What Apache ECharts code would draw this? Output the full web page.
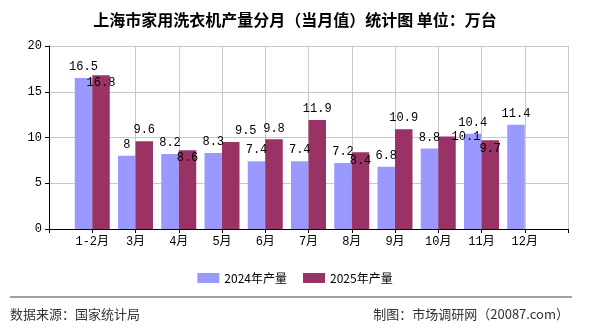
<!DOCTYPE html>
<html>
<head>
<meta charset="utf-8">
<script src="https://cdn.jsdelivr.net/npm/echarts@6/dist/echarts.min.js"></script>
<style>
  html, body { margin: 0; padding: 0; background: #fff; }
  #main { width: 590px; height: 330px; }
</style>
</head>
<body>
<div id="main"></div>
<script>
const months = ["1-2月", "3月", "4月", "5月", "6月", "7月", "8月", "9月", "10月", "11月", "12月"];
const output2024 = [16.5, 8, 8.2, 8.3, 7.4, 7.4, 7.2, 6.8, 8.8, 10.4, 11.4];
const output2025 = [16.8, 9.6, 8.6, 9.5, 9.8, 11.9, 8.4, 10.9, 10.1, 9.7, null];
const yTicks = [0, 5, 10, 15, 20];

const monoFont = "'Liberation Mono', 'Noto Sans CJK SC', monospace";
const cjkFont = "'Noto Sans CJK SC', sans-serif";

// labels of 2025 that the original pushed aside to avoid overlaps
const shift2025 = [[0, 19], [0, 0], [0, 19], [15, 0], [0, 0], [0, 0], [0, 20], [0, 0], [19, 11], [0, 20], [0, 0]];

function plotOutput(dom) {
  try {
    const chart = echarts.getInstanceByDom(dom) || echarts.init(dom, null, { renderer: "canvas" });

    // empty slots at both ends so the months sit on the grid lines
    const cats = [""].concat(months, [""]);
    const pad = (arr) => [null].concat(arr, [null]);

    const data2025 = pad(output2025.map((v, i) => ({
      value: v,
      label: { offset: shift2025[i] },
    })));

    const option = {
      animation: false,
      title: {
        text: "上海市家用洗衣机产量分月（当月值）统计图 单位：万台",
        left: "center",
        top: 7,
        textStyle: { fontSize: 16, fontWeight: "bold", color: "#000", fontFamily: cjkFont },
      },
      legend: {
        top: 267,
        left: "center",
        icon: "rect",
        itemWidth: 22,
        itemHeight: 10,
        itemGap: 16,
        textStyle: { fontSize: 12, color: "#000", fontFamily: cjkFont },
        data: ["2024年产量", "2025年产量"],
      },
      grid: { left: 49, right: 22, top: 46, bottom: 101 },
      xAxis: {
        type: "category",
        data: cats,
        boundaryGap: false,
        axisLine: { lineStyle: { color: "#000", width: 1 } },
        axisTick: { show: true, interval: 0, length: 4, lineStyle: { color: "#000" } },
        axisLabel: { interval: 0, color: "#000", fontSize: 12, fontFamily: monoFont, margin: 7 },
        splitLine: {
          show: true,
          interval: (i) => i !== 1,
          lineStyle: { color: "#c8c8c8", width: 1 },
        },
      },
      yAxis: {
        type: "value",
        min: yTicks[0],
        max: yTicks[yTicks.length - 1],
        interval: 5,
        axisLine: { show: true, lineStyle: { color: "#000", width: 1 } },
        axisTick: { show: true, length: 4, lineStyle: { color: "#000" } },
        axisLabel: { color: "#000", fontSize: 12, fontFamily: monoFont, margin: 7 },
        splitLine: { show: true, lineStyle: { color: "#c8c8c8", width: 1 } },
      },
      series: [
        {
          name: "2024年产量",
          type: "bar",
          data: pad(output2024),
          barWidth: 17.5,
          barGap: 0,
          itemStyle: { color: "#9999FF" },
          label: { show: true, position: "top", distance: 5, color: "#000", fontSize: 12, fontFamily: monoFont },
        },
        {
          name: "2025年产量",
          type: "bar",
          data: data2025,
          barWidth: 17.5,
          itemStyle: { color: "#993366" },
          label: { show: true, position: "top", distance: 5, color: "#000", fontSize: 12, fontFamily: monoFont },
        },
      ],
      graphic: [
        {
          type: "line",
          shape: { x1: 10, y1: 297, x2: 572, y2: 297 },
          style: { stroke: "#808080", lineWidth: 1.5 },
        },
        {
          type: "text",
          left: 10,
          top: 308,
          style: { text: "数据来源：国家统计局", fill: "#333", font: "13px " + cjkFont },
        },
        {
          type: "text",
          right: 21,
          top: 308,
          style: { text: "制图：市场调研网（20087.com）", fill: "#333", font: "13px " + cjkFont },
        },
      ],
    };

    chart.setOption(option, true);
  } catch (error) {
    console.error("Error in plotOutput:", error);
  }
}

plotOutput(document.getElementById("main"));
</script>
</body>
</html>
